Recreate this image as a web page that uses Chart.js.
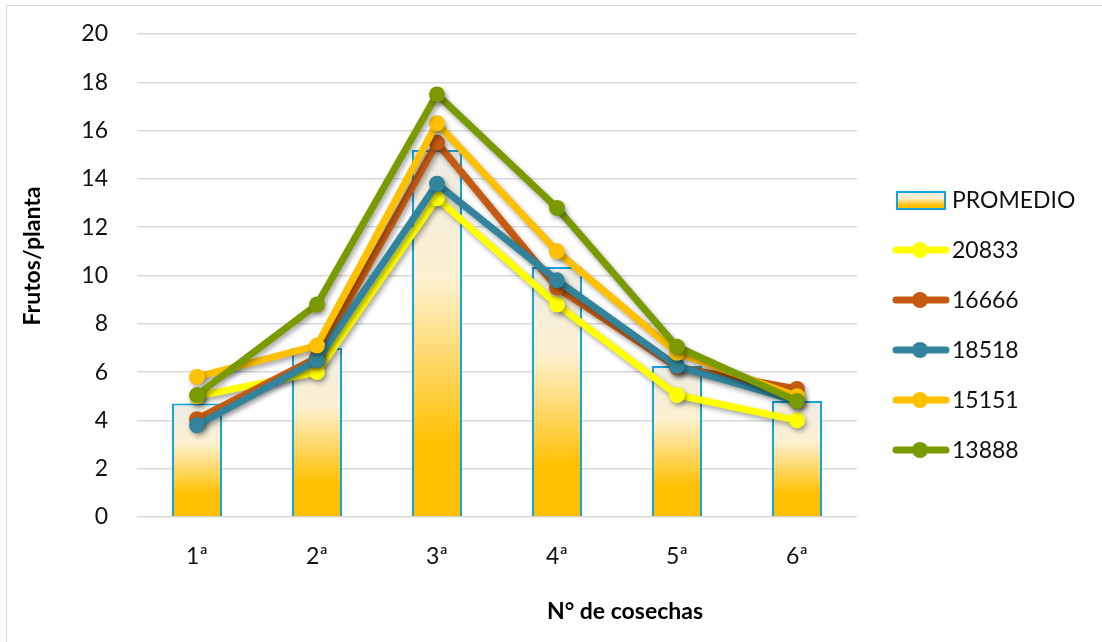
<!DOCTYPE html>
<html>
<head>
<meta charset="utf-8">
<script src="https://cdn.jsdelivr.net/npm/chart.js@4.4.0/dist/chart.umd.min.js"></script>
<style>
  html, body { margin: 0; padding: 0; background: #fff; }
  #wrap { width: 1102px; height: 642px; position: relative; }
</style>
</head>
<body>
<div id="wrap"><canvas id="cosechas" width="1102" height="642"></canvas></div>
<script>
// categorias (n° de cosecha)
var cosechas = ['1ª', '2ª', '3ª', '4ª', '5ª', '6ª'];
// promedio (barras)
var promedio = [4.7, 7.0, 15.2, 10.35, 6.25, 4.8];
// densidades (lineas)
var s20833 = [5.0, 6.0, 13.2, 8.8, 5.05, 4.0];
var s16666 = [4.05, 6.6, 15.5, 9.5, 6.2, 5.3];
var s18518 = [3.8, 6.5, 13.8, 9.8, 6.25, 4.8];
var s15151 = [5.8, 7.1, 16.3, 11.0, 6.8, 5.0];
var s13888 = [5.05, 8.8, 17.5, 12.8, 7.05, 4.8];
var yTicks = [0, 2, 4, 6, 8, 10, 12, 14, 16, 18, 20];

var FONT = 'Lato';
Chart.defaults.font.family = FONT;
Chart.defaults.color = '#111';

// degradado de barra (blanco -> dorado)
function barGradient(ctx, top, bottom) {
    var g = ctx.createLinearGradient(0, top, 0, bottom);
    g.addColorStop(0, '#EDEBE4');
    g.addColorStop(0.35, '#FDF1D0');
    g.addColorStop(0.8, '#FFC000');
    g.addColorStop(1, '#FFC000');
    return g;
}

function lineSet(label, data, color, order) {
    return {
        type: 'line',
        label: label,
        data: data,
        borderColor: color,
        backgroundColor: color,
        borderWidth: 7,
        pointRadius: 8,
        pointHoverRadius: 8,
        pointBorderWidth: 0,
        tension: 0,
        order: order
    };
}

// sombras de lineas + titulos + leyenda
var decor = {
    id: 'decor',
    beforeDraw: function(chart) {
        var ctx = chart.ctx;
        ctx.save();
        ctx.strokeStyle = '#d9d9d9';
        ctx.lineWidth = 1;
        ctx.strokeRect(6.5, 5.5, 1300, 800);
        ctx.restore();
    },
    beforeDatasetDraw: function(chart, args) {
        if (args.meta.type !== 'line') return;
        var ctx = chart.ctx;
        ctx.save();
        ctx.shadowColor = 'rgba(0,0,0,0.35)';
        ctx.shadowBlur = 5;
        ctx.shadowOffsetX = 2;
        ctx.shadowOffsetY = 3;
    },
    afterDatasetDraw: function(chart, args) {
        if (args.meta.type !== 'line') return;
        chart.ctx.restore();
    },
    afterDraw: function(chart) {
        var ctx = chart.ctx;
        ctx.save();
        ctx.fillStyle = '#000';
        ctx.font = 'bold 23px ' + FONT;
        ctx.textAlign = 'center';
        ctx.textBaseline = 'middle';
        ctx.fillText('N° de cosechas', 625, 612);
        ctx.translate(33, 256);
        ctx.rotate(-Math.PI / 2);
        ctx.fillText('Frutos/planta', 0, 0);
        ctx.restore();

        // leyenda
        ctx.save();
        ctx.font = '23px ' + FONT;
        ctx.textBaseline = 'middle';
        ctx.textAlign = 'left';
        var ds = chart.data.datasets;
        for (var i = 0; i < ds.length; i++) {
            var y = 200 + i * 50;
            if (ds[i].type === 'bar') {
                ctx.fillStyle = barGradient(ctx, y - 8, y + 9);
                ctx.fillRect(897, y - 8, 48, 17);
                ctx.strokeStyle = '#17A2DB';
                ctx.lineWidth = 2;
                ctx.strokeRect(897, y - 8, 48, 17);
            } else {
                ctx.strokeStyle = ds[i].borderColor;
                ctx.lineWidth = 7;
                ctx.lineCap = 'round';
                ctx.beginPath();
                ctx.moveTo(896, y);
                ctx.lineTo(946, y);
                ctx.stroke();
                ctx.fillStyle = ds[i].borderColor;
                ctx.beginPath();
                ctx.arc(920, y, 8, 0, Math.PI * 2);
                ctx.fill();
            }
            ctx.fillStyle = '#111';
            ctx.fillText(ds[i].label, 952, y + 1);
        }
        ctx.restore();
    }
};

var ctx = document.getElementById('cosechas').getContext('2d');
var chart = new Chart(ctx, {
    type: 'bar',
    data: {
        labels: cosechas,
        datasets: [
            {
                type: 'bar',
                label: 'PROMEDIO',
                data: promedio,
                backgroundColor: function(c) {
                    var ys = c.chart.scales.y;
                    if (!ys || c.raw == null) return '#FFC000';
                    var top = ys.getPixelForValue(c.raw);
                    var base = ys.getPixelForValue(0);
                    if (!isFinite(top) || !isFinite(base) || top === base) return '#FFC000';
                    return barGradient(c.chart.ctx, top, base);
                },
                borderColor: '#17A2DB',
                borderWidth: 2,
                barPercentage: 0.417,
                categoryPercentage: 1,
                order: 10
            },
            lineSet('20833', s20833, '#FFFF00', 5),
            lineSet('16666', s16666, '#C55A11', 4),
            lineSet('18518', s18518, '#31849B', 3),
            lineSet('15151', s15151, '#FFC000', 2),
            lineSet('13888', s13888, '#7A9A01', 1)
        ]
    },
    options: {
        responsive: false,
        animation: false,
        layout: { padding: { left: 0, top: 34, right: 245, bottom: 0 } },
        plugins: {
            legend: { display: false },
            tooltip: { enabled: false }
        },
        scales: {
            x: {
                grid: { display: false, drawTicks: false },
                border: { display: false },
                ticks: { font: { size: 23 }, color: '#111', padding: 26 },
                afterFit: function(s) { s.height = 125; }
            },
            y: {
                min: 0,
                max: 20,
                afterBuildTicks: function(s) {
                    s.ticks = yTicks.map(function(v) { return { value: v }; });
                },
                grid: { color: '#d9d9d9', lineWidth: 1.5, drawTicks: false },
                border: { display: false },
                ticks: { font: { size: 23 }, color: '#111', padding: 29 },
                afterFit: function(s) {
                    s.width = 137;
                    s.paddingTop = 0;
                    s.paddingBottom = 0;
                }
            }
        }
    },
    plugins: [decor]
});
</script>
</body>
</html>
